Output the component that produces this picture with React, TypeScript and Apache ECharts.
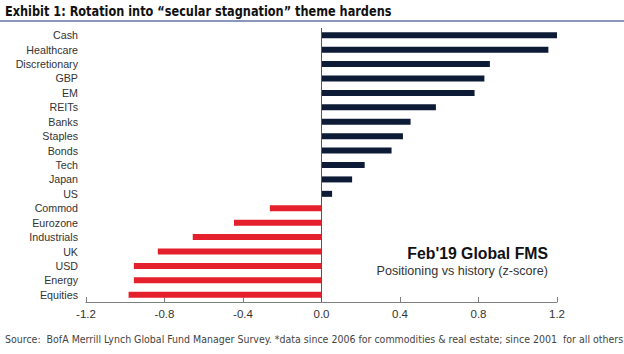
import React, { useEffect, useRef } from "react";
import * as echarts from "echarts";

const categories = [
  "Cash", "Healthcare", "Discretionary", "GBP", "EM", "REITs", "Banks", "Staples", "Bonds",
  "Tech", "Japan", "US", "Commod", "Eurozone", "Industrials", "UK", "USD", "Energy", "Equities",
];
const values = [
  1.2, 1.156, 0.858, 0.83, 0.78, 0.583, 0.454, 0.415, 0.357,
  0.22, 0.156, 0.054, -0.263, -0.446, -0.656, -0.834, -0.956, -0.956, -0.983,
];
const xTicks = { min: -1.2, max: 1.2, interval: 0.4 };

const titleText = "Exhibit 1: Rotation into \u201csecular stagnation\u201d theme hardens";
const legendTitle = "Feb'19 Global FMS";
const legendSub = "Positioning vs history (z-score)";
const sourceText =
  "Source:  BofA Merrill Lynch Global Fund Manager Survey. *data since 2006 for commodities & real estate; since 2001  for all others";

const NAVY = "#0d1b36";
const RED = "#e3202b";
const NARROW = "'DejaVu Sans Condensed', 'Liberation Sans Narrow', sans-serif";
const SANS = "'Liberation Sans', Arial, sans-serif";

export default function App() {
  const ref = useRef<HTMLDivElement>(null);
  useEffect(() => {
    if (!ref.current) return;
    const chart = echarts.init(ref.current, undefined, { renderer: "svg" });
    chart.setOption({
      animation: false,
      backgroundColor: "#ffffff",
      grid: { left: 86, right: 67, top: 28, bottom: 52, containLabel: false },
      xAxis: {
        type: "value",
        min: xTicks.min,
        max: xTicks.max,
        interval: xTicks.interval,
        splitLine: { show: false },
        axisLine: { show: true, onZero: false, lineStyle: { color: "#7f7f7f", width: 1 } },
        axisTick: { show: true, inside: true, length: 5, lineStyle: { color: "#7f7f7f" } },
        axisLabel: {
          color: "#333",
          fontFamily: SANS,
          fontSize: 11.5,
          margin: 6,
          formatter: (v: number) => v.toFixed(1),
        },
      },
      yAxis: {
        type: "category",
        data: categories,
        inverse: true,
        axisLine: { show: false },
        axisTick: { show: false },
        axisLabel: { interval: 0, color: "#333", fontFamily: SANS, fontSize: 10.7, margin: 8 },
      },
      series: [
        {
          type: "bar",
          barWidth: 6,
          data: values.map((v) => ({ value: v, itemStyle: { color: v >= 0 ? NAVY : RED } })),
          markLine: {
            silent: true,
            symbol: "none",
            label: { show: false },
            lineStyle: { color: "#555", width: 1, type: "solid" },
            data: [{ xAxis: 0 }],
          },
        },
      ],
      graphic: [
        {
          type: "text",
          x: 5,
          y: 11,
          scaleX: 0.9,
          style: {
            text: titleText,
            font: `bold 14px ${NARROW}`,
            fill: "#111",
            verticalAlign: "middle",
          },
        },
        {
          type: "line",
          shape: { x1: 0, y1: 21, x2: 624, y2: 21 },
          style: { stroke: "#6475a3", lineWidth: 1.5 },
        },
        {
          type: "text",
          x: 548,
          y: 253,
          style: {
            text: legendTitle,
            font: `bold 15.8px ${SANS}`,
            fill: "#111",
            align: "right",
            verticalAlign: "middle",
          },
        },
        {
          type: "text",
          x: 548,
          y: 271,
          style: {
            text: legendSub,
            font: `12.6px ${SANS}`,
            fill: "#333",
            align: "right",
            verticalAlign: "middle",
          },
        },
        {
          type: "text",
          x: 5,
          y: 339,
          style: {
            text: sourceText,
            font: `10.5px ${NARROW}`,
            fill: "#444",
            verticalAlign: "middle",
          },
        },
      ],
    });
    return () => chart.dispose();
  }, []);
  return (
    <div
      ref={ref}
      style={{ position: "fixed", left: 0, top: 0, width: 624, height: 354, background: "#fff" }}
    />
  );
}
